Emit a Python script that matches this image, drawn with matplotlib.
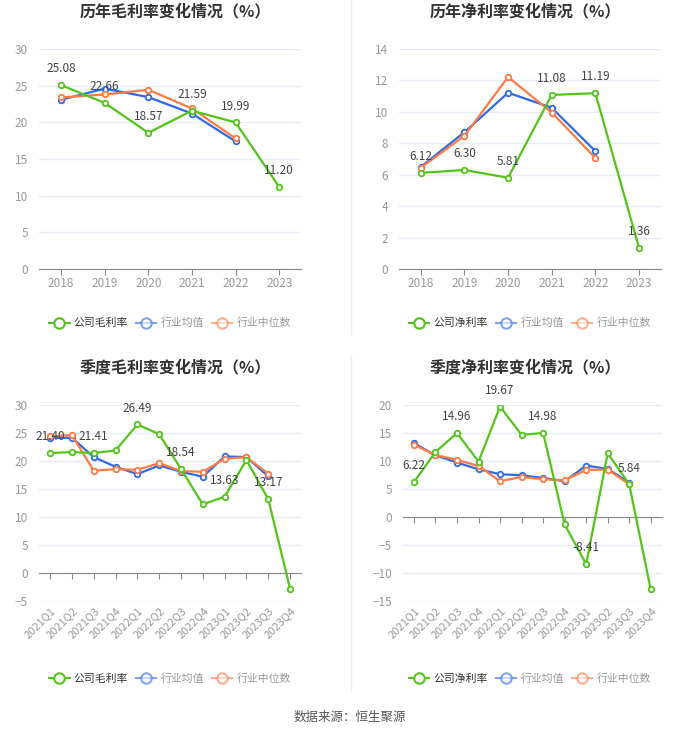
import numpy as np
import matplotlib.pyplot as plt
from matplotlib.lines import Line2D

plt.rcParams['font.family'] = ['Noto Sans CJK SC', 'DejaVu Sans']

years = ['2018', '2019', '2020', '2021', '2022', '2023']
quarters = ['2021Q1', '2021Q2', '2021Q3', '2021Q4', '2022Q1', '2022Q2',
            '2022Q3', '2022Q4', '2023Q1', '2023Q2', '2023Q3', '2023Q4']

# annual gross margin
gross_year_co = [25.08, 22.66, 18.57, 21.59, 19.99, 11.20]
gross_year_mean = [23.08, 24.6, 23.44, 21.2, 17.4]
gross_year_median = [23.4, 23.8, 24.44, 21.9, 17.8]

# annual net margin
net_year_co = [6.12, 6.30, 5.81, 11.08, 11.19, 1.36]
net_year_mean = [6.5, 8.71, 11.22, 10.26, 7.5]
net_year_median = [6.45, 8.48, 12.22, 9.96, 7.07]

# quarterly gross margin
gross_q_co = [21.40, 21.57, 21.41, 21.87, 26.49, 24.78, 18.54, 12.24, 13.63, 20.14, 13.17, -2.79]
gross_q_mean = [24.12, 24.12, 20.68, 18.95, 17.65, 19.19, 18.06, 17.17, 20.8, 20.68, 17.23]
gross_q_median = [24.36, 24.6, 18.24, 18.54, 18.42, 19.6, 18.18, 18.06, 20.38, 20.68, 17.7]

# quarterly net margin
net_q_co = [6.22, 11.6, 14.96, 9.88, 19.67, 14.64, 14.98, -1.31, -8.41, 11.37, 5.84, -12.92]
net_q_mean = [13.15, 11.0, 9.7, 8.51, 7.62, 7.44, 6.96, 6.37, 9.17, 8.57, 6.13]
net_q_median = [12.86, 11.07, 10.18, 9.1, 6.37, 7.14, 6.73, 6.55, 8.39, 8.45, 5.83]

GREEN = '#52c41a'
BLUE = '#2f6ae8'
ORANGE = '#ff7a45'
GRID = '#e6ebf5'
TICK = '#999999'


def draw_panel(ax, labels, co, mean, median, ylim, yticks, label_idx, rotate):
    x = np.arange(len(labels))
    kw = dict(marker='o', markersize=4, markerfacecolor='white',
              markeredgewidth=1.3, linewidth=1.6)
    ax.plot(x[:len(mean)], mean, color=BLUE, zorder=3, **kw)
    ax.plot(x[:len(median)], median, color=ORANGE, zorder=3, **kw)
    ax.plot(x, co, color=GREEN, zorder=4, **kw)
    for i in label_idx:
        ax.annotate(f'{co[i]:.2f}', (x[i], co[i]), xytext=(0, 7),
                    textcoords='offset points', ha='center', va='bottom',
                    fontsize=8.5, color='#444444', zorder=5)
    ax.set_xlim(-0.5, len(labels) - 0.5)
    ax.set_ylim(*ylim)
    ax.set_yticks(yticks)
    ax.grid(axis='y', color=GRID, linewidth=1)
    ax.set_axisbelow(True)
    for s in ['left', 'right', 'top']:
        ax.spines[s].set_visible(False)
    ax.spines['bottom'].set_color('#888888')
    ax.spines['bottom'].set_position(('data', 0))
    ax.spines['bottom'].set_zorder(2)
    ax.tick_params(axis='y', length=0, labelsize=8.5, labelcolor=TICK, pad=8)
    ax.set_xticks(x)
    ax.tick_params(axis='x', length=4, color='#888888', labelbottom=False)
    # labels sit at the bottom of the plot area, not on the zero line
    sec = ax.secondary_xaxis(0.0)
    sec.set_xticks(x)
    if rotate:
        sec.set_xticklabels(labels, rotation=45, ha='right', rotation_mode='anchor')
    else:
        sec.set_xticklabels(labels)
    sec.tick_params(length=0, labelsize=8.5 if not rotate else 8, labelcolor=TICK,
                    pad=6 if not rotate else 3)
    sec.spines['bottom'].set_visible(False)


fig = plt.figure(figsize=(7, 7.34), dpi=100)

ax1 = fig.add_axes([0.056, 0.6335, 0.374, 0.2997])
draw_panel(ax1, years, gross_year_co, gross_year_mean, gross_year_median,
           (0, 30), range(0, 31, 5), range(6), False)
ax2 = fig.add_axes([0.570, 0.6335, 0.374, 0.2997])
draw_panel(ax2, years, net_year_co, net_year_mean, net_year_median,
           (0, 14), range(0, 15, 2), range(6), False)
ax3 = fig.add_axes([0.056, 0.181, 0.374, 0.2675])
draw_panel(ax3, quarters, gross_q_co, gross_q_mean, gross_q_median,
           (-5, 30), range(-5, 31, 5), range(0, 12, 2), True)
ax4 = fig.add_axes([0.576, 0.181, 0.369, 0.2675])
draw_panel(ax4, quarters, net_q_co, net_q_mean, net_q_median,
           (-15, 20), range(-15, 21, 5), range(0, 12, 2), True)

titles = [('历年毛利率变化情况（%）', 0.25, 0.984), ('历年净利率变化情况（%）', 0.75, 0.984),
          ('季度毛利率变化情况（%）', 0.25, 0.500), ('季度净利率变化情况（%）', 0.75, 0.500)]
for t, x, y in titles:
    fig.text(x, y, t, ha='center', va='center', fontsize=11.5, fontweight='bold', color='#333333')

legend_sets = [('公司毛利率', 0.243, 0.560), ('公司净利率', 0.757, 0.560),
               ('公司毛利率', 0.243, 0.076), ('公司净利率', 0.757, 0.076)]
for name, x, y in legend_sets:
    handles = [Line2D([], [], color=c, marker='o', markersize=7.5, markerfacecolor='white',
                      markeredgewidth=1.5, linewidth=1.5, alpha=a)
               for c, a in ((GREEN, 1.0), (BLUE, 0.6), (ORANGE, 0.6))]
    leg = fig.legend(handles, [name, '行业均值', '行业中位数'], loc='center',
                     bbox_to_anchor=(x, y), ncol=3, frameon=False, fontsize=7.8,
                     handlelength=1.9, handletextpad=0.4, columnspacing=0.7)
    for i, txt in enumerate(leg.get_texts()):
        txt.set_color('#333333' if i == 0 else '#999999')

fig.add_artist(Line2D([0.502, 0.502], [0.545, 1.0], color='#eeeeee', linewidth=1))
fig.add_artist(Line2D([0.502, 0.502], [0.06, 0.516], color='#eeeeee', linewidth=1))

fig.text(0.5, 0.022, '数据来源：恒生聚源', ha='center', va='center', fontsize=9, color='#555555')

fig.savefig('out.png', dpi=100, facecolor='white')
